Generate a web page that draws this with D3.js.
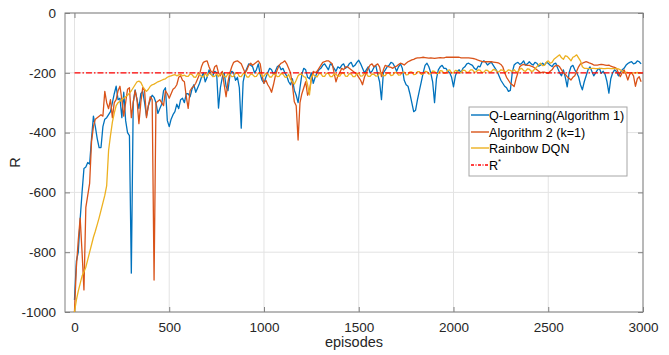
<!DOCTYPE html>
<html>
<head>
<meta charset="UTF-8">
<style>
  body { margin: 0; background: #fff; }
  svg { display: block; font-family: "Liberation Sans", Arial, sans-serif; }
</style>
</head>
<body>
<svg width="669" height="355"></svg>
<script src="https://d3js.org/d3.v7.min.js"></script>
<script>

// episodes sampled every 10
let episodes = d3.range(0, 3000, 10);

let qLearning = [
  -960,-830,-800,-690,-600,-520,-515,-500,-505,-420,
  -345,-380,-420,-450,-450,-380,-355,-350,-340,-330,
  -300,-270,-245,-290,-285,-350,-265,-360,-400,-410,
  -870,-300,-257,-290,-320,-270,-262,-300,-345,-310,
  -290,-275,-282,-300,-336,-320,-305,-260,-250,-360,
  -380,-355,-340,-330,-305,-320,-290,-285,-300,-270,
  -270,-280,-255,-240,-265,-250,-235,-215,-200,-230,
  -215,-190,-205,-210,-195,-200,-318,-250,-215,-200,
  -245,-260,-210,-195,-200,-225,-215,-250,-385,-230,
  -200,-185,-170,-175,-180,-200,-190,-170,-205,-225,
  -235,-215,-200,-185,-190,-205,-195,-180,-175,-190,
  -185,-200,-210,-230,-240,-220,-258,-275,-300,-250,
  -205,-185,-190,-215,-220,-200,-235,-215,-200,-190,
  -185,-175,-170,-180,-190,-170,-175,-185,-195,-180,
  -185,-175,-170,-185,-180,-170,-165,-180,-175,-165,
  -158,-170,-185,-200,-190,-180,-200,-195,-182,-175,
  -205,-230,-290,-200,-190,-180,-175,-165,-168,-180,
  -195,-180,-170,-185,-225,-240,-245,-270,-300,-330,
  -325,-290,-260,-230,-200,-175,-168,-180,-200,-230,
  -300,-220,-190,-180,-175,-185,-185,-195,-200,-215,
  -247,-210,-195,-190,-200,-185,-180,-170,-168,-172,
  -175,-185,-190,-178,-180,-165,-160,-165,-174,-168,
  -165,-175,-185,-195,-210,-225,-235,-245,-250,-262,
  -259,-200,-174,-168,-165,-172,-168,-160,-174,-170,
  -163,-170,-174,-165,-168,-178,-174,-168,-174,-165,
  -168,-175,-179,-170,-168,-185,-200,-210,-190,-215,
  -247,-200,-180,-175,-190,-200,-213,-240,-257,-230,
  -210,-190,-180,-195,-210,-200,-190,-185,-202,-195,
  -205,-230,-268,-220,-200,-190,-196,-210,-200,-190,
  -185,-175,-169,-165,-163,-170,-168,-160,-163,-170
];

let algorithm2 = [
  -1000,-850,-760,-686,-800,-926,-650,-610,-570,-430,
  -380,-355,-350,-345,-340,-345,-262,-300,-320,-290,
  -350,-300,-290,-260,-245,-290,-345,-300,-255,-250,
  -350,-300,-260,-290,-370,-300,-250,-260,-350,-310,
  -280,-290,-893,-300,-295,-290,-300,-310,-260,-270,
  -285,-270,-255,-250,-240,-215,-210,-225,-230,-280,
  -319,-260,-250,-245,-235,-220,-205,-180,-165,-162,
  -160,-180,-195,-200,-180,-175,-200,-210,-195,-240,
  -280,-230,-200,-180,-165,-162,-160,-165,-170,-185,
  -200,-190,-175,-168,-175,-170,-165,-160,-170,-210,
  -235,-225,-240,-250,-265,-240,-210,-190,-175,-168,
  -165,-160,-170,-185,-200,-240,-297,-310,-425,-300,
  -270,-250,-230,-275,-260,-220,-195,-200,-195,-185,
  -175,-165,-163,-160,-160,-165,-170,-200,-230,-210,
  -200,-185,-190,-180,-180,-185,-190,-195,-200,-205,
  -215,-225,-240,-215,-200,-185,-174,-170,-180,-175,
  -170,-180,-213,-190,-175,-178,-180,-182,-185,-180,
  -178,-172,-168,-170,-174,-168,-163,-160,-157,-155,
  -152,-150,-150,-149,-148,-149,-150,-151,-150,-151,
  -152,-151,-150,-149,-150,-150,-148,-148,-148,-148,
  -148,-148,-148,-148,-150,-150,-150,-150,-150,-151,
  -152,-153,-155,-158,-160,-162,-163,-163,-163,-163,
  -163,-164,-165,-166,-168,-172,-180,-200,-215,-225,
  -235,-240,-246,-220,-200,-180,-174,-172,-174,-175,
  -175,-178,-180,-185,-190,-195,-200,-198,-198,-200,
  -202,-195,-190,-180,-176,-175,-180,-190,-200,-205,
  -213,-218,-224,-215,-210,-195,-180,-170,-168,-165,
  -163,-165,-168,-170,-174,-174,-174,-173,-172,-173,
  -174,-175,-174,-178,-180,-182,-185,-200,-213,-200,
  -190,-205,-224,-205,-200,-210,-245,-220,-213,-230
];

let rainbow = [
  -1000,-960,-930,-905,-880,-865,-850,-825,-800,-775,
  -750,-730,-708,-685,-660,-635,-610,-577,-460,-410,
  -365,-335,-310,-300,-295,-290,-285,-280,-275,-268,
  -260,-250,-240,-230,-228,-232,-245,-255,-262,-255,
  -245,-240,-238,-234,-230,-228,-225,-222,-220,-215,
  -212,-210,-208,-206,-210,-207,-205,-210,-208,-212,
  -212,-204,-206,-214,-215,-203,-205,-213,-214,-202,
  -212,-201,-204,-213,-212,-203,-213,-204,-202,-212,
  -214,-203,-205,-213,-212,-201,-200,-212,-213,-203,
  -203,-214,-214,-204,-206,-213,-212,-202,-200,-211,
  -211,-202,-203,-214,-214,-204,-205,-213,-212,-203,
  -204,-214,-215,-205,-222,-230,-238,-225,-210,-204,
  -205,-213,-215,-240,-274,-215,-205,-212,-214,-203,
  -203,-212,-212,-202,-202,-213,-213,-204,-205,-212,
  -211,-201,-200,-211,-212,-203,-204,-213,-213,-202,
  -202,-211,-210,-202,-203,-212,-212,-204,-205,-211,
  -210,-200,-200,-210,-209,-201,-201,-209,-208,-199,
  -199,-208,-207,-198,-198,-207,-206,-197,-197,-206,
  -205,-196,-196,-205,-204,-195,-196,-204,-203,-194,
  -195,-203,-202,-193,-194,-202,-201,-192,-190,-200,
  -200,-192,-193,-200,-199,-191,-192,-199,-198,-190,
  -190,-198,-197,-190,-191,-199,-198,-191,-192,-198,
  -196,-189,-190,-197,-197,-190,-191,-197,-196,-190,
  -192,-196,-190,-197,-196,-188,-185,-193,-195,-187,
  -188,-195,-194,-186,-180,-172,-168,-176,-175,-165,
  -160,-168,-165,-155,-150,-145,-140,-150,-155,-143,
  -145,-152,-160,-148,-145,-140,-150,-160,-180,-185,
  -185,-186,-186,-185,-185,-186,-186,-185,-185,-186,
  -186,-185,-185,-186,-186,-186,-186,-187,-190,-195,
  -200,-199,-199,-201,-201,-200,-200,-199,-200,-200
];

let rStar = -200;
let xTicks = [0, 500, 1000, 1500, 2000, 2500, 3000];
let yTicks = [0, -200, -400, -600, -800, -1000];

let seriesNames = ["Q-Learning(Algorithm 1)", "Algorithm 2 (k=1)", "Rainbow DQN"];
let seriesColors = ["#0072BD", "#D95319", "#EDB120"];
let seriesData = [qLearning, algorithm2, rainbow];

let width = 669, height = 355;
let margin = {left: 65, right: 26, top: 13, bottom: 43};
let plotW = width - margin.left - margin.right;
let plotH = height - margin.top - margin.bottom;

let svg = d3.select("svg");

let x = d3.scaleLinear().domain([-50, 3000]).range([0, plotW]);
let y = d3.scaleLinear().domain([-1000, 0]).range([plotH, 0]);

let g = svg.append("g")
    .attr("transform", "translate(" + margin.left + "," + margin.top + ")");

g.append("clipPath").attr("id", "clip")
  .append("rect").attr("width", plotW).attr("height", plotH);

// grid
g.append("g").selectAll("line")
    .data(xTicks).enter().append("line")
    .attr("x1", d => x(d)).attr("x2", d => x(d))
    .attr("y1", 0).attr("y2", plotH)
    .attr("stroke", "#e3e3e3").attr("stroke-width", 1);
g.append("g").selectAll("line")
    .data(yTicks).enter().append("line")
    .attr("x1", 0).attr("x2", plotW)
    .attr("y1", d => y(d)).attr("y2", d => y(d))
    .attr("stroke", "#e3e3e3").attr("stroke-width", 1);

// axes, ticks pointing inward
let xAxis = g.append("g")
    .attr("transform", "translate(0," + plotH + ")")
    .call(d3.axisBottom(x).tickValues(xTicks).tickSize(-5).tickPadding(10).tickFormat(d3.format("d")));
let xAxisTop = g.append("g")
    .call(d3.axisTop(x).tickValues(xTicks).tickSize(-5).tickFormat(""));
let yAxis = g.append("g")
    .call(d3.axisLeft(y).tickValues(yTicks).tickSize(-5).tickPadding(9).tickFormat(d => d));
let yAxisRight = g.append("g")
    .attr("transform", "translate(" + plotW + ",0)")
    .call(d3.axisRight(y).tickValues(yTicks).tickSize(-5).tickFormat(""));

[xAxis, xAxisTop, yAxis, yAxisRight].forEach(a => {
  a.select(".domain").remove();
  a.selectAll(".tick line").attr("stroke", "#808080");
  a.selectAll("text").style("font-size", "13.5px").attr("fill", "#262626");
});

g.append("rect")
    .attr("width", plotW).attr("height", plotH)
    .attr("fill", "none").attr("stroke", "#808080").attr("stroke-width", 1);

// series
let line = d3.line()
    .x((d, i) => x(episodes[i]))
    .y(d => y(d));

let lines = g.append("g").attr("clip-path", "url(#clip)");
seriesData.forEach((s, k) => {
  lines.append("path")
      .datum(s)
      .attr("d", line)
      .attr("fill", "none")
      .attr("stroke", seriesColors[k])
      .attr("stroke-width", 1.3)
      .attr("stroke-linejoin", "round");
});

lines.append("line")
    .attr("x1", x(0)).attr("x2", x(3000))
    .attr("y1", y(rStar)).attr("y2", y(rStar))
    .attr("stroke", "#FF0000").attr("stroke-width", 1.3)
    .attr("stroke-dasharray", "6,2,1.5,2");

// axis labels
svg.append("text")
    .attr("x", margin.left + plotW / 2).attr("y", 347)
    .attr("text-anchor", "middle")
    .style("font-size", "14.5px").attr("fill", "#262626")
    .text("episodes");
svg.append("text")
    .attr("transform", "translate(20," + (margin.top + plotH / 2) + ") rotate(-90)")
    .attr("text-anchor", "middle")
    .style("font-size", "14.5px").attr("fill", "#262626")
    .text("R");

// legend
let legend = svg.append("g").attr("transform", "translate(469,107)");
legend.append("rect")
    .attr("width", 158).attr("height", 69)
    .attr("fill", "#fff").attr("stroke", "#a6a6a6").attr("stroke-width", 1);

let legendRows = [8, 25, 41, 58];
seriesNames.forEach((name, i) => {
  let row = legend.append("g").attr("transform", "translate(0," + legendRows[i] + ")");
  row.append("line").attr("x1", 2).attr("x2", 20)
      .attr("stroke", seriesColors[i]).attr("stroke-width", 1.4);
  row.append("text").attr("x", 20).attr("dy", "0.36em")
      .style("font-size", "12.6px").attr("fill", "#000").text(name);
});
let rRow = legend.append("g").attr("transform", "translate(0," + legendRows[3] + ")");
rRow.append("line").attr("x1", 2).attr("x2", 20)
    .attr("stroke", "#FF0000").attr("stroke-width", 1.3)
    .attr("stroke-dasharray", "3,1.5,1,1.5");
let rText = rRow.append("text").attr("x", 20).attr("dy", "0.36em")
    .style("font-size", "12.6px").attr("fill", "#000");
rText.append("tspan").text("R");
rText.append("tspan").attr("dy", "-6").style("font-size", "8px").text("*");

</script>
</body>
</html>
